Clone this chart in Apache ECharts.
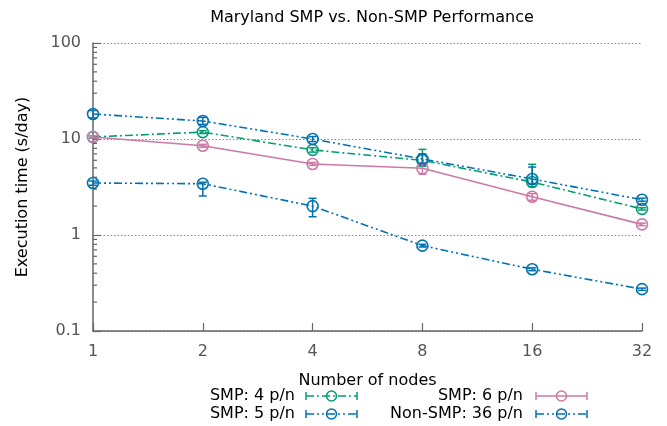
<!DOCTYPE html>
<html>
<head>
<meta charset="utf-8">
<script src="https://cdn.jsdelivr.net/npm/echarts@6/dist/echarts.min.js"></script>
<style>html,body{margin:0;padding:0;background:#fff}#c{width:667px;height:426px}</style>
</head>
<body>
<div id="c"></div>
<script>
// ---- data ----
const nodes = [1, 2, 4, 8, 16, 32];
const seriesNames = ['SMP: 4 p/n', 'SMP: 6 p/n', 'SMP: 5 p/n', 'Non-SMP: 36 p/n'];
const smp4 = [10.5, 11.8, 7.7, 6.0, 3.56, 1.87];
const smp4Low = [10.2, 11.4, 7.3, 5.2, 3.2, 1.82];
const smp4High = [10.8, 12.2, 8.1, 7.8, 5.45, 1.92];
const smp6 = [10.5, 8.5, 5.5, 4.95, 2.5, 1.29];
const smp6Low = [10.2, 8.2, 5.3, 4.3, 2.3, 1.25];
const smp6High = [10.8, 8.8, 5.7, 5.6, 2.7, 1.33];
const smp5 = [18.2, 15.4, 10.0, 6.2, 3.83, 2.33];
const smp5Low = [16.6, 14.2, 9.4, 5.6, 3.4, 2.25];
const smp5High = [19.8, 16.8, 10.6, 7.0, 5.1, 2.42];
const nonSmp = [3.48, 3.42, 2.0, 0.775, 0.44, 0.273];
const nonSmpLow = [3.3, 2.55, 1.55, 0.75, 0.425, 0.265];
const nonSmpHigh = [3.65, 3.55, 2.41, 0.8, 0.455, 0.28];
const xTickLabels = ['1', '2', '4', '8', '16', '32'];
const yTickLabels = ['0.1', '1', '10', '100'];
const yMinorTicks = [0.2,0.3,0.4,0.5,0.6,0.7,0.8,0.9,2,3,4,5,6,7,8,9,20,30,40,50,60,70,80,90];

// ---- styles ----
const FONT = 'DejaVu Sans';
const colors = ['#009e73', '#cc79a7', '#0072b2', '#0072b2'];
const dashes = [[8, 3, 2, 3], 'solid', [8, 3, 2, 3, 2, 3], [8, 3, 2, 3, 2, 3]];
const values = [smp4, smp6, smp5, nonSmp];
const lows = [smp4Low, smp6Low, smp5Low, nonSmpLow];
const highs = [smp4High, smp6High, smp5High, nonSmpHigh];

const chart = echarts.init(document.getElementById('c'), null, {renderer: 'canvas'});

const series = [];
values.forEach((vals, i) => {
  series.push({
    name: seriesNames[i],
    type: 'line',
    data: nodes.map((n, k) => [n, vals[k]]),
    symbol: 'circle',
    symbolSize: 11,
    itemStyle: {color: 'rgba(0,0,0,0)', borderColor: colors[i], borderWidth: 1.6},
    lineStyle: {color: colors[i], width: 1.6, type: dashes[i]},
    emphasis: {disabled: true},
    z: 3
  });
  series.push({
    type: 'custom',
    data: nodes.map((n, k) => [n, lows[i][k], highs[i][k]]),
    encode: {x: 0, y: [1, 2]},
    z: 4,
    silent: true,
    renderItem: function (params, api) {
      const x = api.value(0);
      const p1 = api.coord([x, api.value(1)]);
      const p2 = api.coord([x, api.value(2)]);
      const w = 4;
      const st = {stroke: colors[i], lineWidth: 1.5};
      return {type: 'group', children: [
        {type: 'line', shape: {x1: p1[0], y1: p1[1], x2: p2[0], y2: p2[1]}, style: st},
        {type: 'line', shape: {x1: p1[0] - w, y1: p1[1], x2: p1[0] + w, y2: p1[1]}, style: st},
        {type: 'line', shape: {x1: p2[0] - w, y1: p2[1], x2: p2[0] + w, y2: p2[1]}, style: st}
      ]};
    }
  });
});

// minor ticks on log y axis
series.push({
  type: 'custom',
  data: yMinorTicks.map(v => [1, v]),
  encode: {x: 0, y: 1},
  silent: true,
  z: 5,
  renderItem: function (params, api) {
    const p = api.coord([api.value(0), api.value(1)]);
    return {type: 'line', shape: {x1: p[0], y1: p[1], x2: p[0] + 4, y2: p[1]},
      style: {stroke: '#666', lineWidth: 1.2}};
  }
});

// legend drawn as graphic
const legendPos = [
  {tx: 295, sx: 306, y: 396},
  {tx: 523, sx: 536, y: 396},
  {tx: 295, sx: 306, y: 414},
  {tx: 523, sx: 536, y: 414}
];
const graphics = [];
seriesNames.forEach((name, i) => {
  const p = legendPos[i];
  const L = 51;
  const st = {stroke: colors[i], lineWidth: 1.5};
  graphics.push({type: 'text', x: p.tx, y: p.y,
    style: {text: name, font: '16px "' + FONT + '"', fill: '#000', align: 'right', verticalAlign: 'middle'}});
  graphics.push({type: 'line', shape: {x1: p.sx, y1: p.y, x2: p.sx + L, y2: p.y},
    style: Object.assign({lineDash: dashes[i] === 'solid' ? null : dashes[i]}, st)});
  graphics.push({type: 'line', shape: {x1: p.sx, y1: p.y - 4, x2: p.sx, y2: p.y + 4}, style: st});
  graphics.push({type: 'line', shape: {x1: p.sx + L, y1: p.y - 4, x2: p.sx + L, y2: p.y + 4}, style: st});
  graphics.push({type: 'circle', shape: {cx: p.sx + L / 2, cy: p.y, r: 5},
    style: {stroke: colors[i], lineWidth: 1.5, fill: 'rgba(0,0,0,0)'}});
});

chart.setOption({
  animation: false,
  backgroundColor: '#fff',
  textStyle: {fontFamily: FONT},
  title: {
    text: 'Maryland SMP vs. Non-SMP Performance',
    left: 367, top: 5, textAlign: 'center',
    textStyle: {fontFamily: FONT, fontSize: 16, fontWeight: 'normal', color: '#000'}
  },
  grid: {left: 93, right: 25, top: 43, bottom: 95, containLabel: false},
  xAxis: {
    type: 'log', logBase: 2, min: 1, max: 32,
    name: 'Number of nodes', nameLocation: 'middle', nameGap: 42,
    nameTextStyle: {fontFamily: FONT, fontSize: 16, color: '#000'},
    axisLine: {lineStyle: {color: '#666', width: 1.5}},
    axisTick: {inside: true, length: 8, lineStyle: {color: '#666', width: 1.2}},
    axisLabel: {fontFamily: FONT, fontSize: 16, color: '#555', margin: 13,
      formatter: v => xTickLabels[nodes.indexOf(Math.round(v))] ?? ''},
    splitLine: {show: false}
  },
  yAxis: {
    type: 'log', logBase: 10, min: 0.1, max: 100,
    name: 'Execution time (s/day)', nameLocation: 'middle', nameGap: 62, nameRotate: 90,
    nameTextStyle: {fontFamily: FONT, fontSize: 16, color: '#000'},
    axisLine: {show: true, lineStyle: {color: '#666', width: 1.5}},
    axisTick: {inside: true, length: 8, lineStyle: {color: '#666', width: 1.2}},
    axisLabel: {fontFamily: FONT, fontSize: 16, color: '#555', margin: 12,
      formatter: v => {
        const k = Math.round(Math.log10(v)) + 1;
        return yTickLabels[k] ?? '';
      }},
    splitLine: {show: true, lineStyle: {color: '#888', width: 1, type: [1.5, 2]}}
  },
  series: series,
  graphic: graphics
});
</script>
</body>
</html>
